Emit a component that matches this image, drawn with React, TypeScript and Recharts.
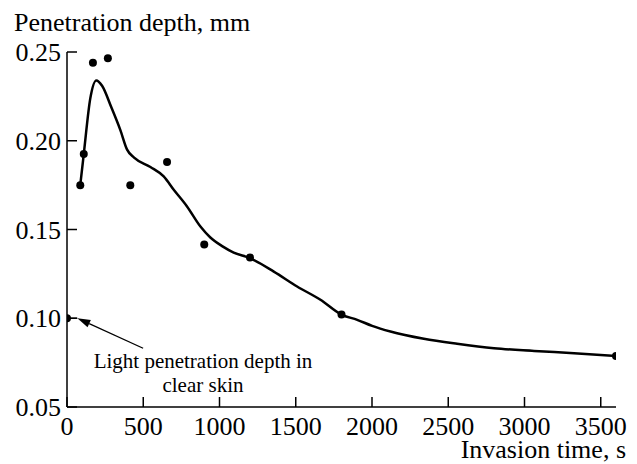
import React from 'react';
import { ComposedChart, Line, Scatter, XAxis, YAxis, ReferenceLine } from 'recharts';

// measured points (s, mm)
const pointTimes = [0, 87, 110, 170, 268, 415, 656, 900, 1200, 1800, 3600];
const pointDepths = [0.1, 0.175, 0.1925, 0.244, 0.2465, 0.175, 0.188, 0.1415, 0.1342, 0.1021, 0.0788];

// hand-drawn fit curve
const curveTimes = [87, 110, 153, 192, 230, 290, 350, 394, 440, 547, 634, 700, 787, 875, 940, 1020, 1093, 1198, 1356, 1509, 1662, 1798, 1903, 2001, 2121, 2340, 2558, 2800, 3063, 3325, 3600];
const curveDepths = [0.175, 0.1925, 0.224, 0.234, 0.231, 0.219, 0.206, 0.195, 0.1905, 0.1852, 0.1799, 0.1724, 0.163, 0.1517, 0.1455, 0.1405, 0.137, 0.1339, 0.1263, 0.1179, 0.1104, 0.1021, 0.0991, 0.0957, 0.0925, 0.0884, 0.0856, 0.0831, 0.0816, 0.0803, 0.0788];

const xTicks = [0, 500, 1000, 1500, 2000, 2500, 3000, 3500];
const yTicks = [0.05, 0.1, 0.15, 0.2, 0.25];

const points = pointTimes.map((x, i) => ({ x, y: pointDepths[i] }));
const curve = curveTimes.map((x, i) => ({ x, y: curveDepths[i] }));

const font = '"Liberation Serif", "Times New Roman", serif';

const Dot = (props: any) => <circle cx={props.cx} cy={props.cy} r={4} fill="#000" />;

const XTick = (props: any) => (
  <text x={props.x} y={props.y} dy="0.71em" textAnchor="middle" fontSize={26} fontFamily={font} fill="#000">
    {props.payload.value}
  </text>
);

const YTick = (props: any) => (
  <text x={props.x} y={props.y} dy="0.35em" textAnchor="end" fontSize={26} fontFamily={font} fill="#000">
    {Number(props.payload.value).toFixed(2)}
  </text>
);

// leader line with a filled arrow head at (x2, y2)
const Arrow = (props: any) => {
  const { x1, y1, x2, y2 } = props;
  const a = Math.atan2(y2 - y1, x2 - x1);
  const len = 13, half = 4;
  const bx = x2 - len * Math.cos(a), by = y2 - len * Math.sin(a);
  const p1 = `${bx + half * Math.sin(a)},${by - half * Math.cos(a)}`;
  const p2 = `${bx - half * Math.sin(a)},${by + half * Math.cos(a)}`;
  return (
    <g>
      <line x1={x1} y1={y1} x2={bx} y2={by} stroke="#000" strokeWidth={1.3} />
      <polygon points={`${x2},${y2} ${p1} ${p2}`} fill="#000" />
    </g>
  );
};

const App: React.FC = () => {
  return (
    <div style={{ position: 'absolute', left: 0, top: 0, width: 637, height: 464, background: '#fff', fontFamily: font }}>
      <ComposedChart width={637} height={464} margin={{ top: 52, right: 21, bottom: 10, left: 7 }}>
        <XAxis
          dataKey="x"
          type="number"
          domain={[0, 3600]}
          ticks={xTicks}
          allowDataOverflow
          height={47}
          stroke="#000"
          strokeWidth={1.5}
          tickSize={-10}
          tickMargin={20}
          tick={XTick}
        />
        <YAxis
          dataKey="y"
          type="number"
          domain={[0.05, 0.25]}
          ticks={yTicks}
          allowDataOverflow
          width={60}
          stroke="#000"
          strokeWidth={1.5}
          tickSize={-10}
          tickMargin={16}
          tick={YTick}
        />
        <ReferenceLine segment={[{ x: 0, y: 0.1 }, { x: 68, y: 0.1 }]} stroke="#000" strokeWidth={1.3} />
        <ReferenceLine segment={[{ x: 499, y: 0.0831 }, { x: 68, y: 0.1 }]} shape={Arrow} />
        <Line data={curve} dataKey="y" type="monotone" stroke="#000" strokeWidth={2.5} dot={false} isAnimationActive={false} />
        <Scatter data={points} dataKey="y" shape={Dot} isAnimationActive={false} />
      </ComposedChart>
      <svg width={637} height={464} style={{ position: 'absolute', left: 0, top: 0, pointerEvents: 'none' }}>
        <text x={14} y={31} fontSize={26} fontFamily={font} fill="#000">Penetration depth, mm</text>
        <text x={626} y={458} fontSize={26} fontFamily={font} fill="#000" textAnchor="end">Invasion time, s</text>
        <text x={203} y={368} fontSize={21} fontFamily={font} fill="#000" textAnchor="middle">Light penetration depth in</text>
        <text x={203} y={392} fontSize={21} fontFamily={font} fill="#000" textAnchor="middle">clear skin</text>
      </svg>
    </div>
  );
};

export default App;
